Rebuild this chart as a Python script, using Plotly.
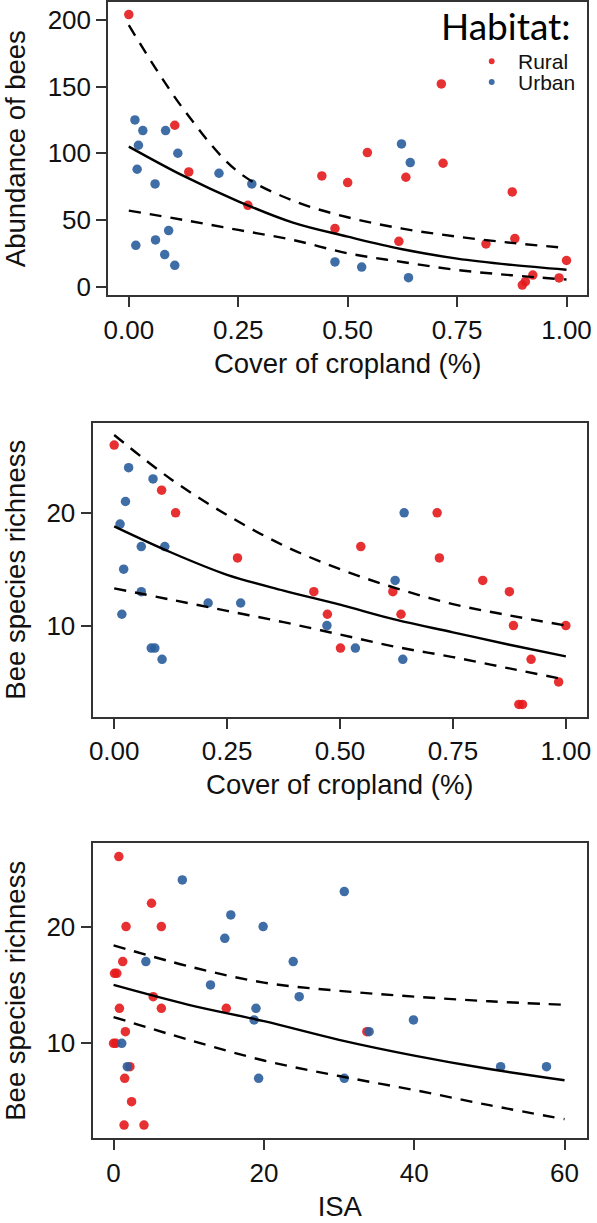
import plotly.graph_objects as go

# ---------------- data ----------------
# Panel 1: abundance of bees vs cover of cropland
rural_crop_1 = [0.000, 0.105, 0.137, 0.272, 0.441, 0.471, 0.500, 0.545, 0.617, 0.633,
                0.714, 0.718, 0.816, 0.876, 0.882, 0.899, 0.906, 0.923, 0.983, 1.000]
rural_abund = [204, 121, 86, 61, 83, 43.5, 78, 100.5, 34, 82,
               152, 92.5, 32, 71, 36, 1.2, 3.7, 8.7, 6.5, 19.6]
urban_crop_1 = [0.014, 0.032, 0.084, 0.022, 0.112, 0.019, 0.206, 0.060, 0.281, 0.016,
                0.061, 0.091, 0.082, 0.105, 0.623, 0.643, 0.471, 0.532, 0.639]
urban_abund = [125, 117, 117, 106, 100, 88, 85, 77, 77, 31,
               35, 42, 24, 16, 107, 93, 18.5, 14.7, 6.7]
fit1_x = [0, 0.125, 0.25, 0.375, 0.5, 0.625, 0.75, 0.875, 1.0]
fit1_mid = [105, 83, 64, 48, 37.5, 28, 21, 16.3, 12.7]
fit1_hi = [196, 133, 86, 64.5, 52, 43.5, 37.5, 32.8, 29]
fit1_lo = [57, 50, 42.5, 35, 25, 18.5, 12.5, 8.5, 5.3]

# Panel 2: bee species richness vs cover of cropland
rural_crop_2 = [0.000, 0.105, 0.136, 0.273, 0.715, 0.546, 0.720, 0.816, 0.875, 0.442,
                0.617, 0.472, 0.635, 0.884, 1.000, 0.501, 0.923, 0.984, 0.896, 0.904]
rural_rich_2 = [26, 22, 20, 16, 20, 17, 16, 14, 13, 13,
                13, 11, 11, 10, 10, 8, 7, 5, 3, 3]
urban_crop_2 = [0.032, 0.086, 0.025, 0.013, 0.060, 0.112, 0.021, 0.060, 0.208, 0.280,
                0.017, 0.082, 0.090, 0.106, 0.642, 0.622, 0.471, 0.534, 0.639]
urban_rich_2 = [24, 23, 21, 19, 17, 17, 15, 13, 12, 12,
                11, 8, 8, 7, 20, 14, 10, 8, 7]
fit2_x = [0, 0.125, 0.25, 0.375, 0.5, 0.625, 0.75, 0.875, 1.0]
fit2_mid = [18.8, 16.5, 14.5, 13.1, 11.85, 10.5, 9.4, 8.3, 7.26]
fit2_hi = [26.9, 23.0, 19.8, 17.1, 15.0, 13.3, 11.9, 10.9, 10.0]
fit2_lo = [13.3, 12.3, 11.3, 10.3, 9.2, 8.1, 7.2, 6.2, 5.2]

# Panel 3: bee species richness vs ISA
rural_isa = [0.7, 5.05, 1.66, 6.36, 1.22, 0.13, 0.43, 5.27, 0.78, 6.36,
             15.0, 1.57, 33.7, 0.0, 0.3, 2.18, 1.48, 2.4, 1.4, 4.05]
rural_rich_3 = [26, 22, 20, 20, 17, 16, 16, 14, 13, 13,
                13, 11, 11, 10, 10, 8, 7, 5, 3, 3]
urban_isa = [9.15, 15.6, 19.9, 14.8, 4.3, 23.9, 12.9, 24.7, 18.95, 18.7,
             1.09, 1.83, 19.3, 30.7, 39.9, 34.0, 51.5, 57.6, 30.7]
urban_rich_3 = [24, 21, 20, 19, 17, 17, 15, 14, 13, 12,
                10, 8, 7, 23, 12, 11, 8, 8, 7]
fit3_x = [0, 10, 20, 30, 40, 50, 60]
fit3_mid = [15.0, 13.3, 11.9, 10.3, 8.95, 7.8, 6.84]
fit3_hi = [18.4, 16.6, 15.2, 14.5, 14.0, 13.6, 13.3]
fit3_lo = [12.25, 10.3, 8.53, 7.2, 6.0, 4.7, 3.5]

habitats = ["Rural", "Urban"]

# ---------------- style ----------------
RED = "#E41A1C"
BLUE = "#2a5d9c"
AXC = "#333333"
TXT = "#111111"
W, H = 597, 1223
FONT = "Liberation Sans"

fig = go.Figure()

panels = [
    dict(ax="", rx=rural_crop_1, ry=rural_abund, ux=urban_crop_1, uy=urban_abund,
         fx=fit1_x, fm=fit1_mid, fh=fit1_hi, fl=fit1_lo),
    dict(ax="2", rx=rural_crop_2, ry=rural_rich_2, ux=urban_crop_2, uy=urban_rich_2,
         fx=fit2_x, fm=fit2_mid, fh=fit2_hi, fl=fit2_lo),
    dict(ax="3", rx=rural_isa, ry=rural_rich_3, ux=urban_isa, uy=urban_rich_3,
         fx=fit3_x, fm=fit3_mid, fh=fit3_hi, fl=fit3_lo),
]

for p in panels:
    xa, ya = "x" + p["ax"], "y" + p["ax"]
    fig.add_trace(go.Scatter(x=p["rx"], y=p["ry"], mode="markers", name=habitats[0],
                             marker=dict(color=RED, size=9.5, opacity=0.9, line=dict(width=0)),
                             xaxis=xa, yaxis=ya, showlegend=False))
    fig.add_trace(go.Scatter(x=p["ux"], y=p["uy"], mode="markers", name=habitats[1],
                             marker=dict(color=BLUE, size=9.5, opacity=0.9, line=dict(width=0)),
                             xaxis=xa, yaxis=ya, showlegend=False))
    for key, dash in (("fh", "12px,9px"), ("fl", "12px,9px"), ("fm", "solid")):
        fig.add_trace(go.Scatter(x=p["fx"], y=p[key], mode="lines",
                                 line=dict(color="black", width=2.4, dash=dash, shape="spline"),
                                 xaxis=xa, yaxis=ya, showlegend=False, hoverinfo="skip"))

def px_x(v):
    return v / W

def px_y(v):
    return 1 - v / H

common_axis = dict(showline=True, mirror=True, linecolor=AXC, linewidth=2,
                   ticks="outside", ticklen=10, tickwidth=2, tickcolor=AXC,
                   showgrid=False, zeroline=False,
                   tickfont=dict(family=FONT, size=26, color=TXT),
                   title_font=dict(family=FONT, size=27.5, color=TXT))

fig.update_layout(
    width=W, height=H, margin=dict(l=0, r=0, t=0, b=0),
    paper_bgcolor="white", plot_bgcolor="white", showlegend=False,
    xaxis=dict(domain=[px_x(105), px_x(592)], range=[-0.047, 1.047],
               tickvals=[0, 0.25, 0.5, 0.75, 1.0], tickformat=".2f",
               title=dict(text="Cover of cropland (%)", standoff=10), anchor="y", **common_axis),
    yaxis=dict(domain=[px_y(296), px_y(1)], range=[-6.5, 213.4],
               tickvals=[0, 50, 100, 150, 200],
               title=dict(text="Abundance of bees", standoff=17), anchor="x", **common_axis),
    xaxis2=dict(domain=[px_x(89), px_x(592)], range=[-0.048, 1.047],
                tickvals=[0, 0.25, 0.5, 0.75, 1.0], tickformat=".2f",
                title=dict(text="Cover of cropland (%)", standoff=10), anchor="y2", **common_axis),
    yaxis2=dict(domain=[px_y(720), px_y(424)], range=[1.9, 28.0],
                tickvals=[10, 20],
                title=dict(text="Bee species richness", standoff=17), anchor="x2", **common_axis),
    xaxis3=dict(domain=[px_x(89), px_x(592)], range=[-2.8, 63.0],
                tickvals=[0, 20, 40, 60],
                title=dict(text="ISA", standoff=10), anchor="y3", **common_axis),
    yaxis3=dict(domain=[px_y(1144), px_y(847)], range=[1.85, 27.15],
                tickvals=[10, 20],
                title=dict(text="Bee species richness", standoff=17), anchor="x3", **common_axis),
)

# legend (top-right of first panel)
fig.add_annotation(text="Habitat:", xref="paper", yref="paper", x=px_x(578), y=px_y(25),
                   xanchor="right", yanchor="middle", showarrow=False,
                   font=dict(family="Lato", size=37, color="black"))
for i, (lab, col) in enumerate(zip(habitats, [RED, BLUE])):
    yc = 60.5 + 21 * i
    fig.add_shape(type="circle", xref="paper", yref="paper",
                  x0=px_x(492), x1=px_x(498), y0=px_y(yc + 3), y1=px_y(yc - 3),
                  fillcolor=col, line=dict(width=0), opacity=0.9)
    fig.add_annotation(text=lab, xref="paper", yref="paper", x=px_x(520), y=px_y(yc),
                       xanchor="left", yanchor="middle", showarrow=False,
                       font=dict(family=FONT, size=21, color=TXT))

fig.write_html("out.html")
